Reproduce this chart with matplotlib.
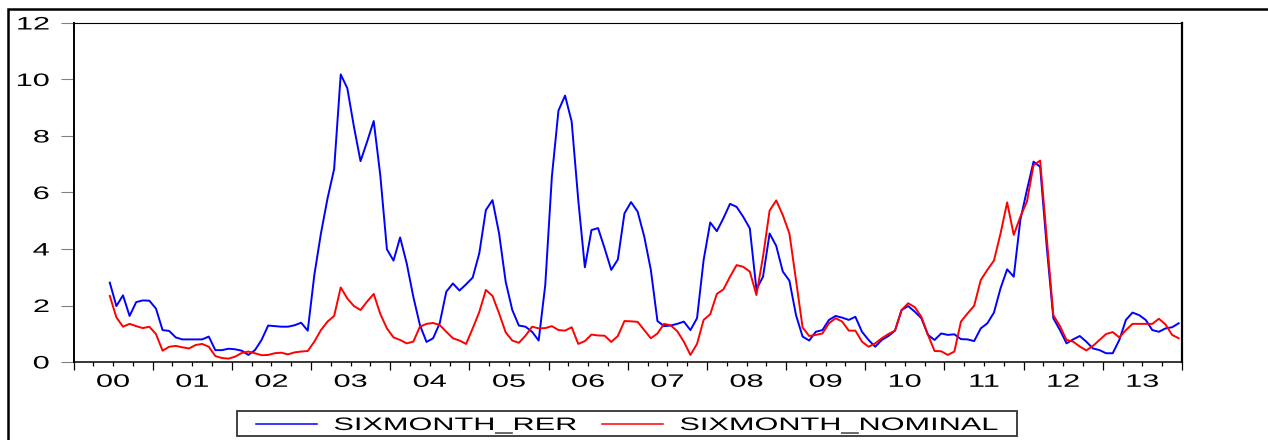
import numpy as np
import matplotlib
matplotlib.use('Agg')
import matplotlib.pyplot as plt
import matplotlib.patheffects as pe
from matplotlib.transforms import Affine2D
from matplotlib.patches import Rectangle
from matplotlib.lines import Line2D

# monthly data, 2000M06 - 2013M12
start_year = 2000
first_month = 5          # June 2000 (0 = January)
years = list(range(2000, 2014))

sixmonth_rer = [
    2.81, 1.98, 2.36, 1.63, 2.12, 2.18, 2.17,                                # 2000
    1.89, 1.13, 1.10, 0.87, 0.80, 0.80, 0.80, 0.80, 0.90, 0.42, 0.42, 0.47,  # 2001
    0.45, 0.40, 0.25, 0.42, 0.78, 1.29, 1.27, 1.25, 1.25, 1.30, 1.39, 1.11,  # 2002
    3.08, 4.55, 5.79, 6.83, 10.18, 9.69, 8.33, 7.11, 7.80, 8.53, 6.60, 3.99, # 2003
    3.59, 4.41, 3.49, 2.31, 1.31, 0.71, 0.84, 1.37, 2.49, 2.78, 2.53, 2.75,  # 2004
    2.99, 3.85, 5.38, 5.73, 4.55, 2.84, 1.84, 1.29, 1.25, 1.07, 0.76, 2.73,  # 2005
    6.56, 8.90, 9.43, 8.51, 5.73, 3.35, 4.67, 4.74, 4.02, 3.26, 3.63, 5.26,  # 2006
    5.66, 5.32, 4.44, 3.26, 1.45, 1.27, 1.29, 1.35, 1.43, 1.13, 1.55, 3.61,  # 2007
    4.94, 4.63, 5.09, 5.60, 5.49, 5.14, 4.73, 2.57, 3.02, 4.55, 4.11, 3.20,  # 2008
    2.88, 1.66, 0.90, 0.76, 1.07, 1.13, 1.49, 1.63, 1.57, 1.49, 1.60, 1.07,  # 2009
    0.78, 0.54, 0.78, 0.92, 1.11, 1.84, 1.98, 1.78, 1.55, 0.96, 0.78, 1.01,  # 2010
    0.96, 0.98, 0.81, 0.80, 0.74, 1.19, 1.37, 1.75, 2.61, 3.28, 3.02, 5.03,  # 2011
    6.09, 7.09, 6.91, 4.08, 1.55, 1.13, 0.66, 0.80, 0.92, 0.72, 0.48, 0.42,  # 2012
    0.31, 0.31, 0.78, 1.49, 1.75, 1.66, 1.49, 1.13, 1.07, 1.19, 1.23, 1.37,  # 2013
]

sixmonth_nominal = [
    2.34, 1.58, 1.25, 1.35, 1.27, 1.20, 1.25,
    0.99, 0.40, 0.54, 0.57, 0.52, 0.48, 0.60, 0.64, 0.54, 0.21, 0.14, 0.12,
    0.19, 0.32, 0.37, 0.31, 0.24, 0.25, 0.31, 0.33, 0.27, 0.34, 0.37, 0.39,
    0.72, 1.13, 1.43, 1.63, 2.64, 2.25, 1.98, 1.84, 2.14, 2.41, 1.70, 1.19,
    0.87, 0.78, 0.66, 0.72, 1.25, 1.35, 1.38, 1.31, 1.07, 0.84, 0.76, 0.64,
    1.19, 1.77, 2.55, 2.34, 1.72, 1.05, 0.76, 0.68, 0.93, 1.25, 1.19, 1.20,
    1.27, 1.13, 1.11, 1.23, 0.64, 0.74, 0.97, 0.94, 0.93, 0.71, 0.92, 1.45,
    1.44, 1.42, 1.13, 0.84, 1.01, 1.35, 1.30, 1.09, 0.72, 0.25, 0.64, 1.49,
    1.69, 2.41, 2.57, 3.02, 3.43, 3.37, 3.20, 2.37, 3.73, 5.36, 5.72, 5.20,
    4.55, 2.90, 1.22, 0.92, 0.96, 1.01, 1.37, 1.55, 1.43, 1.11, 1.11, 0.72,
    0.54, 0.66, 0.84, 0.99, 1.11, 1.84, 2.08, 1.94, 1.60, 0.96, 0.39, 0.38,
    0.25, 0.37, 1.43, 1.72, 1.99, 2.90, 3.26, 3.59, 4.55, 5.65, 4.50, 5.14,
    5.68, 6.97, 7.13, 4.40, 1.66, 1.27, 0.78, 0.72, 0.55, 0.41, 0.57, 0.78,
    0.99, 1.06, 0.87, 1.13, 1.35, 1.35, 1.35, 1.35, 1.53, 1.33, 0.96, 0.84,
]

series_names = ['SIXMONTH_RER', 'SIXMONTH_NOMINAL']
series_colors = ['#0000ff', '#ff0000']


# eviews draws its text wide, so stretch the glyphs sideways
class Stretch(pe.AbstractPathEffect):
    def __init__(self, sx=1.7, anchor='center'):
        super().__init__()
        self.sx = sx
        self.anchor = anchor

    def draw_path(self, renderer, gc, tpath, affine, rgbFace=None):
        ext = tpath.get_extents()
        x0 = {'left': ext.x0, 'right': ext.x1,
              'center': (ext.x0 + ext.x1) / 2}[self.anchor]
        t = Affine2D().translate(-x0, 0).scale(self.sx, 1).translate(x0, 0) + affine
        renderer.draw_path(gc, tpath, t, rgbFace)


W, H = 1268, 440
plt.rcParams['font.family'] = ['Liberation Sans', 'DejaVu Sans']
fig = plt.figure(figsize=(W / 100, H / 100), dpi=100)
ax = fig.add_axes([73.5 / W, 1 - 362 / H, (1182 - 73.5) / W, (362 - 23) / H])

n = len(sixmonth_rer)
x = start_year + (np.arange(first_month, first_month + n) + 0.5) / 12
ax.plot(x, sixmonth_rer, color=series_colors[0], lw=1.4)
ax.plot(x, sixmonth_nominal, color=series_colors[1], lw=1.4)

ax.set_xlim(2000, 2014)
ax.set_ylim(0, 12)

# y axis
ax.set_yticks(range(0, 13, 2))
ax.tick_params(axis='y', direction='out', length=9.4, width=0.8,
               color='#808080', pad=8, labelsize=13)

# x axis: long ticks at year start, short at quarters, label mid-year
ax.set_xticks(range(2000, 2015), [''] * 15)
quarters = [y + q / 4 for y in years for q in (1, 2, 3)]
qlabels = [f'{int(q) % 100:02d}' if q % 1 == 0.5 else '' for q in quarters]
ax.set_xticks(quarters, qlabels, minor=True)
ax.tick_params(axis='x', which='major', direction='out', length=5.4, width=0.9, color='black')
ax.tick_params(axis='x', which='minor', direction='out', length=3, width=0.9,
               color='black', pad=5.5, labelsize=13)

for side, lw in [('left', 1.4), ('right', 1.6), ('top', 0.8), ('bottom', 1.1)]:
    ax.spines[side].set_linewidth(lw)

for lab in ax.get_yticklabels():
    lab.set_path_effects([Stretch(1.7, 'right')])
for lab in ax.get_xticklabels(minor=True):
    lab.set_path_effects([Stretch(1.7, 'center')])

# legend box below the plot
fig.add_artist(Rectangle((237 / W, 1 - 436 / H), (1017 - 237) / W, 25 / H,
                         transform=fig.transFigure, fill=False,
                         edgecolor='#333333', lw=1.3))
for (x0, x1, tx), name, col in zip([(256, 317, 334), (602, 663, 680)],
                                   series_names, series_colors):
    fig.add_artist(Line2D([x0 / W, x1 / W], [1 - 424 / H] * 2,
                          transform=fig.transFigure, color=col, lw=1.1))
    fig.text(tx / W, 1 - 430 / H, name, fontsize=13, ha='left', va='baseline',
             path_effects=[Stretch(1.7, 'left')])

# outer frame (top and left edges show)
fig.add_artist(Rectangle((7.5 / W, -0.1), 1.2, 1.1 - 9 / H,
                         transform=fig.transFigure, fill=False,
                         edgecolor='black', lw=1.8, clip_on=False))

fig.savefig('out.png', dpi=100)
